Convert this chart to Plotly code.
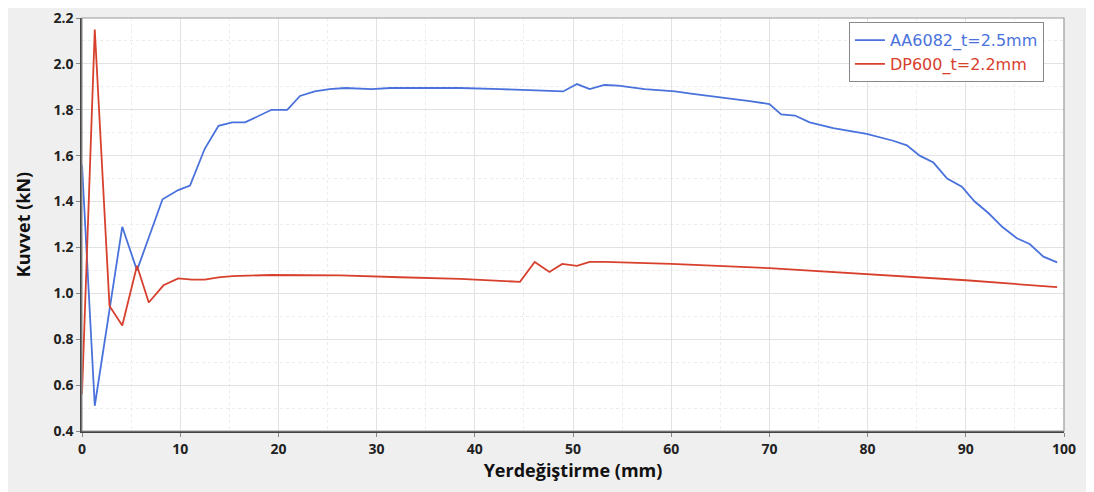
import plotly.graph_objects as go

aa_x = [0, 1.3, 4.1, 5.6, 8.2, 9.8, 11.0, 12.5, 13.9, 15.3, 16.6, 17.9, 19.3, 20.9, 22.2, 23.7,
        25.2, 26.8, 29.5, 31.4, 34.4, 38.5, 42.6, 46.6, 49.0, 50.4, 51.7, 53.2, 54.6, 57.3, 60.4,
        62.0, 64.0, 66.0, 68.0, 70.0, 71.2, 72.6, 74.1, 76.5, 79.9, 82.6, 84.0, 85.3, 86.7, 88.1,
        89.6, 90.9, 92.3, 93.7, 95.2, 96.5, 97.9, 99.3]
aa_y = [1.56, 0.51, 1.29, 1.10, 1.41, 1.45, 1.47, 1.63, 1.73, 1.745, 1.745, 1.77, 1.80, 1.80, 1.86, 1.88,
        1.89, 1.895, 1.89, 1.895, 1.895, 1.895, 1.89, 1.885, 1.88, 1.912, 1.89, 1.908, 1.905, 1.89, 1.88,
        1.87, 1.86, 1.85, 1.838, 1.825, 1.78, 1.775, 1.745, 1.72, 1.695, 1.665, 1.645, 1.60, 1.57, 1.50,
        1.465, 1.40, 1.35, 1.29, 1.24, 1.215, 1.16, 1.135]

dp_x = [0, 1.3, 2.8, 4.1, 5.6, 6.8, 8.3, 9.8, 11.2, 12.5, 13.9, 15.3, 19.3, 26.3, 32.4, 38.5,
        44.6, 46.1, 47.6, 48.9, 50.4, 51.7, 53.2, 60.0, 70.0, 80.0, 90.0, 99.3]
dp_y = [0.56, 2.15, 0.945, 0.86, 1.12, 0.96, 1.035, 1.065, 1.06, 1.06, 1.07, 1.075, 1.08, 1.078, 1.07, 1.063,
        1.05, 1.137, 1.093, 1.128, 1.12, 1.137, 1.137, 1.128, 1.11, 1.085, 1.057, 1.027]

y_ticks = [0.4, 0.6, 0.8, 1.0, 1.2, 1.4, 1.6, 1.8, 2.0, 2.2]
y_ticklabels = ["0.4", "0.6", "0.8", "1.0", "1.2", "1.4", "1.6", "1.8", "2.0", "2.2"]
x_ticks = [0, 10, 20, 30, 40, 50, 60, 70, 80, 90, 100]

series_names = ["AA6082_t=2.5mm", "DP600_t=2.2mm"]
blue = "#4a72dc"
red = "#d8402e"

fig = go.Figure()
fig.add_trace(go.Scatter(x=aa_x, y=aa_y, mode="lines",
                         name=f"<span style='color:{blue}'>{series_names[0]}</span>",
                         line=dict(color=blue, width=1.8)))
fig.add_trace(go.Scatter(x=dp_x, y=dp_y, mode="lines",
                         name=f"<span style='color:{red}'>{series_names[1]}</span>",
                         line=dict(color=red, width=1.8)))

tickfont = dict(family="Open Sans", size=14, color="#222222", weight="bold")
axis_common = dict(
    showline=True, linecolor="#444444", linewidth=1.5, mirror=False,
    gridcolor="#e2e2e2", gridwidth=1.2, zeroline=False,
    ticks="outside", ticklen=4, tickcolor="#888888", tickfont=tickfont,
    ticklabeloverflow="allow",
)

fig.update_xaxes(range=[0, 100], tickvals=x_ticks, automargin="bottom",
                 title=dict(text="Yerdeğiştirme (mm)", font=dict(family="Open Sans", size=18, color="#111111", weight="bold"), standoff=6),
                 minor=dict(dtick=5, tick0=0, showgrid=True, gridcolor="#ececec", griddash="dot"),
                 **axis_common)
fig.update_yaxes(range=[0.4, 2.2], tickvals=y_ticks, ticktext=y_ticklabels, automargin="left",
                 title=dict(text="Kuvvet (kN)", font=dict(family="Open Sans", size=18, color="#111111", weight="bold"), standoff=18),
                 minor=dict(dtick=0.1, tick0=0.4, showgrid=True, gridcolor="#ececec", griddash="dot"),
                 **axis_common)

fig.add_shape(type="rect", xref="paper", yref="paper", x0=0, y0=0, x1=1, y1=1,
              line=dict(color="#999999", width=1.2), layer="above")

fig.update_layout(
    width=1094, height=492,
    margin=dict(l=74, r=38, t=10, b=69),
    paper_bgcolor="#efefef", plot_bgcolor="#ffffff",
    showlegend=True,
    legend=dict(x=0.781, y=0.99, xanchor="left", yanchor="top",
                bgcolor="#ffffff", bordercolor="#888888", borderwidth=1,
                font=dict(family="DejaVu Sans", size=16),
                tracegroupgap=0, itemwidth=30),
)

fig.write_html("out.html")
